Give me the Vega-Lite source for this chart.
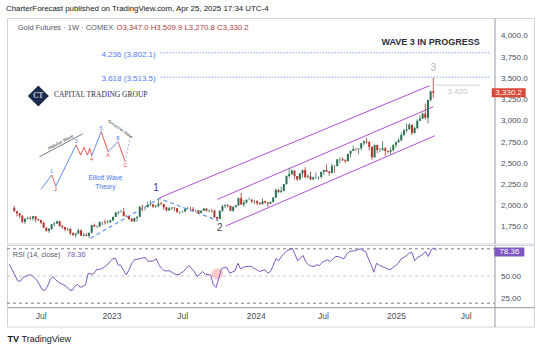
{
"$schema":"https://vega.github.io/schema/vega-lite/v6.json",
"background":"white",
"padding":{"left":6,"top":4,"right":0,"bottom":0},
"config":{"font":"Liberation Sans","view":{"stroke":"#d1d4dc","strokeWidth":1},"axis":{"grid":false,"ticks":false,"domainColor":"#9598a1","labelColor":"#4a4e59","labelFontSize":8,"zindex":0,"labelOverlap":false}},
"title":{"text":"CharterForecast published on TradingView.com, Apr 25, 2025 17:34 UTC-4","anchor":"start","fontSize":7.9,"fontWeight":"normal","color":"#131722","offset":5},
"datasets":{"bars":[
{"d":"2022-04-18","o":1974,"h":1998,"l":1931,"c":1934,"r":63},
{"d":"2022-04-25","o":1934,"h":1938,"l":1872,"c":1911,"r":57},
{"d":"2022-05-02","o":1911,"h":1912,"l":1851,"c":1882,"r":51.3},
{"d":"2022-05-09","o":1882,"h":1887,"l":1797,"c":1811,"r":45},
{"d":"2022-05-16","o":1810,"h":1850,"l":1787,"c":1846,"r":44},
{"d":"2022-05-23","o":1847,"h":1870,"l":1842,"c":1857,"r":48.4},
{"d":"2022-05-30","o":1857,"h":1876,"l":1828,"c":1850,"r":49.5},
{"d":"2022-06-06","o":1851,"h":1879,"l":1825,"c":1875,"r":51},
{"d":"2022-06-13","o":1875,"h":1880,"l":1805,"c":1840,"r":51.3},
{"d":"2022-06-20","o":1840,"h":1848,"l":1820,"c":1830,"r":48.4},
{"d":"2022-06-27","o":1830,"h":1835,"l":1784,"c":1801,"r":46},
{"d":"2022-07-04","o":1801,"h":1812,"l":1736,"c":1742,"r":41},
{"d":"2022-07-11","o":1742,"h":1745,"l":1696,"c":1703,"r":35},
{"d":"2022-07-18","o":1705,"h":1739,"l":1680,"c":1727,"r":34},
{"d":"2022-07-25","o":1727,"h":1784,"l":1715,"c":1782,"r":38.4},
{"d":"2022-08-01","o":1782,"h":1808,"l":1757,"c":1791,"r":45.8},
{"d":"2022-08-08","o":1791,"h":1824,"l":1785,"c":1816,"r":49.5},
{"d":"2022-08-15","o":1816,"h":1824,"l":1748,"c":1762,"r":46},
{"d":"2022-08-22","o":1762,"h":1772,"l":1728,"c":1749,"r":43.2},
{"d":"2022-08-29","o":1749,"h":1750,"l":1698,"c":1721,"r":41.5},
{"d":"2022-09-05","o":1721,"h":1738,"l":1703,"c":1728,"r":40.3},
{"d":"2022-09-12","o":1728,"h":1733,"l":1654,"c":1675,"r":38.4},
{"d":"2022-09-19","o":1675,"h":1690,"l":1643,"c":1655,"r":35},
{"d":"2022-09-26","o":1655,"h":1680,"l":1622,"c":1672,"r":34},
{"d":"2022-10-03","o":1672,"h":1730,"l":1668,"c":1709,"r":38.4},
{"d":"2022-10-10","o":1709,"h":1720,"l":1641,"c":1648,"r":41},
{"d":"2022-10-17","o":1648,"h":1680,"l":1636,"c":1657,"r":37.7},
{"d":"2022-10-24","o":1657,"h":1680,"l":1640,"c":1645,"r":38.4},
{"d":"2022-10-31","o":1645,"h":1684,"l":1618,"c":1681,"r":40.3},
{"d":"2022-11-07","o":1681,"h":1775,"l":1675,"c":1771,"r":53.1},
{"d":"2022-11-14","o":1771,"h":1790,"l":1751,"c":1754,"r":52},
{"d":"2022-11-21","o":1754,"h":1770,"l":1735,"c":1755,"r":52.5},
{"d":"2022-11-28","o":1755,"h":1815,"l":1745,"c":1809,"r":56.8},
{"d":"2022-12-05","o":1809,"h":1813,"l":1770,"c":1810,"r":57.5},
{"d":"2022-12-12","o":1810,"h":1836,"l":1778,"c":1800,"r":58},
{"d":"2022-12-19","o":1800,"h":1833,"l":1791,"c":1804,"r":60},
{"d":"2022-12-26","o":1804,"h":1835,"l":1800,"c":1826,"r":62.4},
{"d":"2023-01-02","o":1826,"h":1870,"l":1825,"c":1869,"r":66},
{"d":"2023-01-09","o":1869,"h":1925,"l":1868,"c":1920,"r":69},
{"d":"2023-01-16","o":1920,"h":1940,"l":1896,"c":1928,"r":69.6},
{"d":"2023-01-23","o":1928,"h":1950,"l":1917,"c":1929,"r":62.4},
{"d":"2023-01-30","o":1929,"h":1975,"l":1876,"c":1877,"r":61.6},
{"d":"2023-02-06","o":1877,"h":1895,"l":1865,"c":1875,"r":56},
{"d":"2023-02-13","o":1875,"h":1878,"l":1831,"c":1843,"r":51.3},
{"d":"2023-02-20","o":1843,"h":1855,"l":1811,"c":1817,"r":56.8},
{"d":"2023-02-27","o":1817,"h":1860,"l":1805,"c":1856,"r":64.1},
{"d":"2023-03-06","o":1856,"h":1874,"l":1813,"c":1870,"r":67.9},
{"d":"2023-03-13","o":1870,"h":1995,"l":1864,"c":1989,"r":68.5},
{"d":"2023-03-20","o":1989,"h":2010,"l":1934,"c":1983,"r":69},
{"d":"2023-03-27","o":1983,"h":1990,"l":1944,"c":1986,"r":70},
{"d":"2023-04-03","o":1986,"h":2049,"l":1977,"c":2008,"r":70.4},
{"d":"2023-04-10","o":2008,"h":2063,"l":1993,"c":2015,"r":66},
{"d":"2023-04-17","o":2015,"h":2021,"l":1973,"c":1990,"r":66.4},
{"d":"2023-04-24","o":1990,"h":2010,"l":1975,"c":1999,"r":66.8},
{"d":"2023-05-01","o":1999,"h":2085,"l":1982,"c":2025,"r":69},
{"d":"2023-05-08","o":2025,"h":2048,"l":2010,"c":2019,"r":62.4},
{"d":"2023-05-15","o":2019,"h":2024,"l":1952,"c":1981,"r":58.5},
{"d":"2023-05-22","o":1981,"h":1985,"l":1932,"c":1946,"r":55.7},
{"d":"2023-05-29","o":1946,"h":1985,"l":1938,"c":1969,"r":55.7},
{"d":"2023-06-05","o":1969,"h":1985,"l":1950,"c":1977,"r":55.7},
{"d":"2023-06-12","o":1977,"h":1983,"l":1934,"c":1971,"r":53.5},
{"d":"2023-06-19","o":1971,"h":1972,"l":1910,"c":1929,"r":52},
{"d":"2023-06-26","o":1929,"h":1935,"l":1900,"c":1929,"r":51.3},
{"d":"2023-07-03","o":1929,"h":1942,"l":1915,"c":1932,"r":53},
{"d":"2023-07-10","o":1932,"h":1970,"l":1925,"c":1960,"r":55},
{"d":"2023-07-17","o":1960,"h":1990,"l":1955,"c":1962,"r":58},
{"d":"2023-07-24","o":1962,"h":1987,"l":1946,"c":1960,"r":61.6},
{"d":"2023-07-31","o":1960,"h":1985,"l":1932,"c":1944,"r":58},
{"d":"2023-08-07","o":1944,"h":1950,"l":1925,"c":1946,"r":55},
{"d":"2023-08-14","o":1946,"h":1947,"l":1902,"c":1915,"r":49.5},
{"d":"2023-08-21","o":1915,"h":1947,"l":1913,"c":1940,"r":52},
{"d":"2023-08-28","o":1940,"h":1974,"l":1937,"c":1966,"r":55},
{"d":"2023-09-04","o":1966,"h":1975,"l":1930,"c":1942,"r":52},
{"d":"2023-09-11","o":1942,"h":1953,"l":1922,"c":1946,"r":51.5},
{"d":"2023-09-18","o":1946,"h":1965,"l":1918,"c":1945,"r":51.3},
{"d":"2023-09-25","o":1945,"h":1950,"l":1857,"c":1866,"r":40.3},
{"d":"2023-10-02","o":1866,"h":1870,"l":1823,"c":1845,"r":37.3},
{"d":"2023-10-09","o":1845,"h":1943,"l":1840,"c":1941,"r":47.6},
{"d":"2023-10-16","o":1941,"h":2009,"l":1926,"c":1994,"r":58},
{"d":"2023-10-23","o":1994,"h":2019,"l":1971,"c":2006,"r":59.4},
{"d":"2023-10-30","o":2006,"h":2019,"l":1979,"c":1999,"r":59},
{"d":"2023-11-06","o":1999,"h":2000,"l":1937,"c":1940,"r":53.1},
{"d":"2023-11-13","o":1940,"h":1999,"l":1931,"c":1985,"r":54.5},
{"d":"2023-11-20","o":1985,"h":2014,"l":1977,"c":2003,"r":55.7},
{"d":"2023-11-27","o":2003,"h":2095,"l":1998,"c":2089,"r":64.1},
{"d":"2023-12-04","o":2089,"h":2152,"l":2010,"c":2014,"r":58},
{"d":"2023-12-11","o":2014,"h":2067,"l":1985,"c":2037,"r":59.5},
{"d":"2023-12-18","o":2037,"h":2075,"l":2027,"c":2070,"r":60.5},
{"d":"2023-12-25","o":2070,"h":2098,"l":2063,"c":2071,"r":60.5},
{"d":"2024-01-01","o":2071,"h":2080,"l":2030,"c":2050,"r":60.5},
{"d":"2024-01-08","o":2050,"h":2067,"l":2020,"c":2052,"r":58.5},
{"d":"2024-01-15","o":2052,"h":2067,"l":2005,"c":2029,"r":56.8},
{"d":"2024-01-22","o":2029,"h":2045,"l":2011,"c":2018,"r":55},
{"d":"2024-01-29","o":2018,"h":2088,"l":2015,"c":2054,"r":56},
{"d":"2024-02-05","o":2054,"h":2060,"l":2025,"c":2038,"r":56.8},
{"d":"2024-02-12","o":2038,"h":2040,"l":1984,"c":2024,"r":53.1},
{"d":"2024-02-19","o":2024,"h":2050,"l":2020,"c":2045,"r":55},
{"d":"2024-02-26","o":2045,"h":2101,"l":2035,"c":2096,"r":61.6},
{"d":"2024-03-04","o":2096,"h":2203,"l":2090,"c":2186,"r":69},
{"d":"2024-03-11","o":2186,"h":2194,"l":2150,"c":2162,"r":66.8},
{"d":"2024-03-18","o":2162,"h":2225,"l":2150,"c":2175,"r":71.5},
{"d":"2024-03-25","o":2175,"h":2255,"l":2170,"c":2254,"r":74.5},
{"d":"2024-04-01","o":2254,"h":2355,"l":2250,"c":2351,"r":77.8},
{"d":"2024-04-08","o":2351,"h":2448,"l":2330,"c":2374,"r":79},
{"d":"2024-04-15","o":2374,"h":2431,"l":2360,"c":2413,"r":80.7},
{"d":"2024-04-22","o":2413,"h":2415,"l":2308,"c":2349,"r":74},
{"d":"2024-04-29","o":2349,"h":2350,"l":2290,"c":2311,"r":66.8},
{"d":"2024-05-06","o":2311,"h":2385,"l":2300,"c":2381,"r":70},
{"d":"2024-05-13","o":2381,"h":2426,"l":2335,"c":2419,"r":72.6},
{"d":"2024-05-20","o":2419,"h":2454,"l":2325,"c":2335,"r":65.2},
{"d":"2024-05-27","o":2335,"h":2370,"l":2325,"c":2345,"r":62.4},
{"d":"2024-06-03","o":2345,"h":2400,"l":2300,"c":2311,"r":61},
{"d":"2024-06-10","o":2311,"h":2344,"l":2300,"c":2333,"r":60.5},
{"d":"2024-06-17","o":2333,"h":2390,"l":2315,"c":2335,"r":62.4},
{"d":"2024-06-24","o":2335,"h":2345,"l":2305,"c":2339,"r":61.6},
{"d":"2024-07-01","o":2339,"h":2400,"l":2320,"c":2399,"r":65.2},
{"d":"2024-07-08","o":2399,"h":2425,"l":2365,"c":2421,"r":66.5},
{"d":"2024-07-15","o":2421,"h":2485,"l":2400,"c":2400,"r":67.9},
{"d":"2024-07-22","o":2400,"h":2410,"l":2353,"c":2386,"r":66},
{"d":"2024-07-29","o":2386,"h":2495,"l":2381,"c":2470,"r":69},
{"d":"2024-08-05","o":2470,"h":2480,"l":2388,"c":2469,"r":71.5},
{"d":"2024-08-12","o":2469,"h":2548,"l":2460,"c":2546,"r":71.5},
{"d":"2024-08-19","o":2546,"h":2570,"l":2500,"c":2547,"r":70},
{"d":"2024-08-26","o":2547,"h":2570,"l":2525,"c":2536,"r":69},
{"d":"2024-09-02","o":2536,"h":2548,"l":2501,"c":2524,"r":74},
{"d":"2024-09-09","o":2524,"h":2611,"l":2522,"c":2611,"r":77},
{"d":"2024-09-16","o":2611,"h":2650,"l":2570,"c":2646,"r":77.5},
{"d":"2024-09-23","o":2646,"h":2709,"l":2645,"c":2668,"r":77.8},
{"d":"2024-09-30","o":2668,"h":2685,"l":2643,"c":2667,"r":79},
{"d":"2024-10-07","o":2667,"h":2673,"l":2606,"c":2676,"r":80},
{"d":"2024-10-14","o":2676,"h":2737,"l":2650,"c":2736,"r":78},
{"d":"2024-10-21","o":2736,"h":2772,"l":2710,"c":2756,"r":77},
{"d":"2024-10-28","o":2756,"h":2801,"l":2730,"c":2749,"r":69},
{"d":"2024-11-04","o":2749,"h":2760,"l":2650,"c":2694,"r":62.4},
{"d":"2024-11-11","o":2694,"h":2696,"l":2541,"c":2571,"r":54.2},
{"d":"2024-11-18","o":2571,"h":2721,"l":2564,"c":2716,"r":64.1},
{"d":"2024-11-25","o":2716,"h":2718,"l":2620,"c":2657,"r":62},
{"d":"2024-12-02","o":2657,"h":2680,"l":2630,"c":2658,"r":60.5},
{"d":"2024-12-09","o":2658,"h":2760,"l":2650,"c":2676,"r":59.4},
{"d":"2024-12-16","o":2676,"h":2690,"l":2583,"c":2645,"r":58},
{"d":"2024-12-23","o":2645,"h":2650,"l":2616,"c":2635,"r":56.8},
{"d":"2024-12-30","o":2635,"h":2690,"l":2600,"c":2654,"r":59.5},
{"d":"2025-01-06","o":2654,"h":2725,"l":2640,"c":2715,"r":61.6},
{"d":"2025-01-13","o":2715,"h":2756,"l":2685,"c":2748,"r":64.1},
{"d":"2025-01-20","o":2748,"h":2800,"l":2740,"c":2770,"r":69},
{"d":"2025-01-27","o":2770,"h":2860,"l":2760,"c":2835,"r":70.5},
{"d":"2025-02-03","o":2835,"h":2905,"l":2820,"c":2886,"r":72.6},
{"d":"2025-02-10","o":2886,"h":2968,"l":2860,"c":2900,"r":75.2},
{"d":"2025-02-17","o":2900,"h":2974,"l":2898,"c":2953,"r":76},
{"d":"2025-02-24","o":2953,"h":2954,"l":2832,"c":2857,"r":66.8},
{"d":"2025-03-03","o":2857,"h":2930,"l":2850,"c":2915,"r":70.4},
{"d":"2025-03-10","o":2915,"h":3017,"l":2900,"c":3001,"r":72},
{"d":"2025-03-17","o":3001,"h":3065,"l":2995,"c":3026,"r":74},
{"d":"2025-03-24","o":3026,"h":3097,"l":3020,"c":3084,"r":77},
{"d":"2025-03-31","o":3084,"h":3201,"l":3015,"c":3036,"r":71.5},
{"d":"2025-04-07","o":3036,"h":3249,"l":2970,"c":3245,"r":78.9},
{"d":"2025-04-14","o":3245,"h":3357,"l":3225,"c":3347,"r":80.7},
{"d":"2025-04-21","o":3347,"h":3509.9,"l":3270.8,"c":3330.2,"r":78.36}
]},
"spacing":0,
"vconcat":[
{"width":527,"height":225.5,
 "encoding":{"x":{"field":"d","type":"temporal","scale":{"type":"utc","domain":[{"year":2022,"month":4,"date":12,"utc":true},{"year":2025,"month":12,"date":28,"utc":true}]},"axis":null}},
 "layer":[
  {"data":{"values":[{"ch":"u","d":"2023-05-04","p":2094},{"ch":"u","d":"2025-04-11","p":3413},{"ch":"m","d":"2023-10-03","p":2075},{"ch":"m","d":"2025-04-21","p":3166},{"ch":"l","d":"2023-10-25","p":1761},{"ch":"l","d":"2025-04-25","p":2824}]},
   "mark":{"type":"line","color":"#b24fd1","strokeWidth":1},
   "encoding":{"y":{"field":"p","type":"quantitative","scale":{"domain":[1555,4211],"nice":false,"zero":false},"axis":{"orient":"right","offset":-39.5,"values":[1750,2000,2250,2500,2750,3000,3250,3500,3750,4000],"format":",.1f","labelPadding":6,"labelOverlap":false,"title":null}},"detail":{"field":"ch"}}},
  {"data":{"values":[{"d":"2022-11-04","p":1618},{"d":"2023-05-04","p":2085},{"d":"2023-10-05","p":1823}]},
   "mark":{"type":"line","color":"#5b8ff5","strokeWidth":1.2,"strokeDash":[4,3]},
   "encoding":{"y":{"field":"p","type":"quantitative","scale":{"domain":[1555,4211],"nice":false,"zero":false},"axis":{"orient":"right","offset":-39.5,"values":[1750,2000,2250,2500,2750,3000,3250,3500,3750,4000],"format":",.1f","labelPadding":6,"labelOverlap":false,"title":null}}}},
  {"data":{"values":[{"d":"2023-05-07","d2":"2025-09-17","p":3802.1},{"d":"2023-05-07","d2":"2025-09-17","p":3513.5}]},
   "mark":{"type":"rule","color":"#4d7ef2","strokeDash":[1,2],"strokeWidth":1},
   "encoding":{"x2":{"field":"d2"},"y":{"field":"p","type":"quantitative","scale":{"domain":[1555,4211],"nice":false,"zero":false},"axis":{"orient":"right","offset":-39.5,"values":[1750,2000,2250,2500,2750,3000,3250,3500,3750,4000],"format":",.1f","labelPadding":6,"labelOverlap":false,"title":null}}}},
  {"data":{"values":[{"d":"2023-04-24","p":3802.1,"t":"4.236 (3,802.1)"},{"d":"2023-04-24","p":3513.5,"t":"3.618 (3,513.5)"}]},
   "mark":{"type":"text","align":"right","baseline":"middle","dy":2,"fontSize":8,"color":"#4d7ef2"},
   "encoding":{"y":{"field":"p","type":"quantitative","scale":{"domain":[1555,4211],"nice":false,"zero":false},"axis":{"orient":"right","offset":-39.5,"values":[1750,2000,2250,2500,2750,3000,3250,3500,3750,4000],"format":",.1f","labelPadding":6,"labelOverlap":false,"title":null}},"text":{"field":"t"}}},
  {"data":{"values":[{"d":"2025-04-24","d2":"2025-08-22","p":3420}]},
   "mark":{"type":"rule","color":"#d1d4dc","strokeWidth":1},
   "encoding":{"x2":{"field":"d2"},"y":{"field":"p","type":"quantitative","scale":{"domain":[1555,4211],"nice":false,"zero":false},"axis":{"orient":"right","offset":-39.5,"values":[1750,2000,2250,2500,2750,3000,3250,3500,3750,4000],"format":",.1f","labelPadding":6,"labelOverlap":false,"title":null}}}},
  {"data":{"values":[{"d":"2025-06-23","p":3343,"t":"3.420"}]},
   "mark":{"type":"text","align":"center","baseline":"middle","fontSize":8,"color":"#c2c4cc"},
   "encoding":{"y":{"field":"p","type":"quantitative","scale":{"domain":[1555,4211],"nice":false,"zero":false},"axis":{"orient":"right","offset":-39.5,"values":[1750,2000,2250,2500,2750,3000,3250,3500,3750,4000],"format":",.1f","labelPadding":6,"labelOverlap":false,"title":null}},"text":{"field":"t"}}},
  {"data":{"name":"bars"},
   "mark":{"type":"rule","strokeWidth":1},
   "encoding":{"y":{"field":"l","type":"quantitative","scale":{"domain":[1555,4211],"nice":false,"zero":false},"axis":{"orient":"right","offset":-39.5,"values":[1750,2000,2250,2500,2750,3000,3250,3500,3750,4000],"format":",.1f","labelPadding":6,"labelOverlap":false,"title":null}},"y2":{"field":"h"},
     "color":{"condition":{"test":"datum.c >= datum.o","value":"#5f8f78"},"value":"#b0615a"}}},
  {"data":{"name":"bars"},
   "mark":{"type":"bar","size":2},
   "encoding":{"y":{"field":"o","type":"quantitative","scale":{"domain":[1555,4211],"nice":false,"zero":false},"axis":{"orient":"right","offset":-39.5,"values":[1750,2000,2250,2500,2750,3000,3250,3500,3750,4000],"format":",.1f","labelPadding":6,"labelOverlap":false,"title":null}},
     "y2":{"field":"c"},
     "color":{"condition":{"test":"datum.c >= datum.o","value":"#2e7052"},"value":"#b3352d"}}},
  {"data":{"values":[{"d":"2023-04-25","p":2212,"t":"1"},{"d":"2023-10-09","p":1734,"t":"2"}]},
   "mark":{"type":"text","align":"center","baseline":"middle","fontSize":10,"color":"#434651"},
   "encoding":{"y":{"field":"p","type":"quantitative","scale":{"domain":[1555,4211],"nice":false,"zero":false},"axis":{"orient":"right","offset":-39.5,"values":[1750,2000,2250,2500,2750,3000,3250,3500,3750,4000],"format":",.1f","labelPadding":6,"labelOverlap":false,"title":null}},"text":{"field":"t"}}},
  {"data":{"values":[{"d":"2025-04-21","p":3625,"t":"3"}]},
   "mark":{"type":"text","align":"center","baseline":"middle","fontSize":10,"color":"#b2b5be"},
   "encoding":{"y":{"field":"p","type":"quantitative","scale":{"domain":[1555,4211],"nice":false,"zero":false},"axis":{"orient":"right","offset":-39.5,"values":[1750,2000,2250,2500,2750,3000,3250,3500,3750,4000],"format":",.1f","labelPadding":6,"labelOverlap":false,"title":null}},"text":{"field":"t"}}},
  {"data":{"values":[{"d":"2025-08-21","p":3923,"t":"WAVE 3 IN PROGRESS"}]},
   "mark":{"type":"text","align":"right","baseline":"middle","fontSize":9,"fontWeight":"bold","color":"#2a2e39"},
   "encoding":{"y":{"field":"p","type":"quantitative","scale":{"domain":[1555,4211],"nice":false,"zero":false},"axis":{"orient":"right","offset":-39.5,"values":[1750,2000,2250,2500,2750,3000,3250,3500,3750,4000],"format":",.1f","labelPadding":6,"labelOverlap":false,"title":null}},"text":{"field":"t"}}},
  {"data":{"values":[{"d":"2022-04-27","p":4099,"t":"Gold Futures · 1W · COMEX"}]},
   "mark":{"type":"text","align":"left","baseline":"middle","fontSize":7.5,"color":"#555a66"},
   "encoding":{"y":{"field":"p","type":"quantitative","scale":{"domain":[1555,4211],"nice":false,"zero":false},"axis":{"orient":"right","offset":-39.5,"values":[1750,2000,2250,2500,2750,3000,3250,3500,3750,4000],"format":",.1f","labelPadding":6,"labelOverlap":false,"title":null}},"text":{"field":"t"}}},
  {"data":{"values":[{"d":"2023-01-11","p":4099,"t":"O3,347.0 H3,509.9 L3,270.8 C3,330.2"}]},
   "mark":{"type":"text","align":"left","baseline":"middle","fontSize":7.8,"color":"#b33c3c"},
   "encoding":{"y":{"field":"p","type":"quantitative","scale":{"domain":[1555,4211],"nice":false,"zero":false},"axis":{"orient":"right","offset":-39.5,"values":[1750,2000,2250,2500,2750,3000,3250,3500,3750,4000],"format":",.1f","labelPadding":6,"labelOverlap":false,"title":null}},"text":{"field":"t"}}},
  {"data":{"values":[
    {"seg":"s1","dir":"up","d":"2022-06-27","p":2193},{"seg":"s1","dir":"up","d":"2022-07-25","p":2362},
    {"seg":"s2","dir":"dn","d":"2022-07-25","p":2362},{"seg":"s2","dir":"dn","d":"2022-08-05","p":2232},
    {"seg":"s3","dir":"up","d":"2022-08-05","p":2232},{"seg":"s3","dir":"up","d":"2022-09-27","p":2715},
    {"seg":"s4","dir":"dn","d":"2022-09-27","p":2715},{"seg":"s4","dir":"dn","d":"2022-10-09","p":2597},{"seg":"s4","dir":"dn","d":"2022-10-18","p":2686},{"seg":"s4","dir":"dn","d":"2022-10-27","p":2597},{"seg":"s4","dir":"dn","d":"2022-11-02","p":2676},{"seg":"s4","dir":"dn","d":"2022-11-07","p":2588},
    {"seg":"s5","dir":"up","d":"2022-11-07","p":2588},{"seg":"s5","dir":"up","d":"2022-12-02","p":2872},
    {"seg":"s6","dir":"dn","d":"2022-12-02","p":2872},{"seg":"s6","dir":"dn","d":"2022-12-20","p":2636},
    {"seg":"s7","dir":"up","d":"2022-12-20","p":2636},{"seg":"s7","dir":"up","d":"2023-01-15","p":2754},
    {"seg":"s8","dir":"dn","d":"2023-01-15","p":2754},{"seg":"s8","dir":"dn","d":"2023-02-03","p":2518},
    {"seg":"s9","dir":"next","d":"2023-02-03","p":2518},{"seg":"s9","dir":"next","d":"2023-02-16","p":2813}]},
   "mark":{"type":"line","strokeWidth":1},
   "encoding":{"y":{"field":"p","type":"quantitative","scale":{"domain":[1555,4211],"nice":false,"zero":false},"axis":{"orient":"right","offset":-39.5,"values":[1750,2000,2250,2500,2750,3000,3250,3500,3750,4000],"format":",.1f","labelPadding":6,"labelOverlap":false,"title":null}},"detail":{"field":"seg"},
     "color":{"field":"dir","type":"nominal","scale":{"domain":["up","dn","next"],"range":["#4d7ef2","#e8413b","#9ab8f7"]},"legend":null},
     "strokeDash":{"field":"dir","type":"nominal","scale":{"domain":["up","dn","next"],"range":[[1,0],[1,0],[2,2]]},"legend":null}}},
  {"data":{"values":[{"d":"2022-07-25","p":2362,"t":"1"},{"d":"2022-09-27","p":2715,"t":"3"},{"d":"2022-12-02","p":2872,"t":"5"},{"d":"2023-01-15","p":2754,"t":"B"}]},
   "mark":{"type":"text","align":"center","baseline":"bottom","dy":-1,"fontSize":5,"color":"#4d7ef2"},
   "encoding":{"y":{"field":"p","type":"quantitative","scale":{"domain":[1555,4211],"nice":false,"zero":false},"axis":{"orient":"right","offset":-39.5,"values":[1750,2000,2250,2500,2750,3000,3250,3500,3750,4000],"format":",.1f","labelPadding":6,"labelOverlap":false,"title":null}},"text":{"field":"t"}}},
  {"data":{"values":[{"d":"2022-08-05","p":2232,"t":"2"},{"d":"2022-11-07","p":2588,"t":"4"},{"d":"2022-12-20","p":2636,"t":"A"},{"d":"2023-02-03","p":2518,"t":"C"}]},
   "mark":{"type":"text","align":"center","baseline":"top","dy":1,"fontSize":5,"color":"#e8413b"},
   "encoding":{"y":{"field":"p","type":"quantitative","scale":{"domain":[1555,4211],"nice":false,"zero":false},"axis":{"orient":"right","offset":-39.5,"values":[1750,2000,2250,2500,2750,3000,3250,3500,3750,4000],"format":",.1f","labelPadding":6,"labelOverlap":false,"title":null}},"text":{"field":"t"}}},
  {"data":{"values":[{"d":"2022-06-23","d2":"2022-10-14","p":2577,"p2":2845}]},
   "mark":{"type":"rule","color":"#222","strokeWidth":0.6},
   "encoding":{"x2":{"field":"d2"},"y":{"field":"p","type":"quantitative","scale":{"domain":[1555,4211],"nice":false,"zero":false},"axis":{"orient":"right","offset":-39.5,"values":[1750,2000,2250,2500,2750,3000,3250,3500,3750,4000],"format":",.1f","labelPadding":6,"labelOverlap":false,"title":null}},"y2":{"field":"p2"}}},
  {"data":{"values":[{"d":"2022-08-18","p":2745,"t":"Impulse Wave"}]},
   "mark":{"type":"text","align":"center","baseline":"middle","fontSize":4.5,"angle":333,"color":"#222"},
   "encoding":{"y":{"field":"p","type":"quantitative","scale":{"domain":[1555,4211],"nice":false,"zero":false},"axis":{"orient":"right","offset":-39.5,"values":[1750,2000,2250,2500,2750,3000,3250,3500,3750,4000],"format":",.1f","labelPadding":6,"labelOverlap":false,"title":null}},"text":{"field":"t"}}},
  {"data":{"values":[{"d":"2023-01-21","p":2900,"t":"Corrective Wave"}]},
   "mark":{"type":"text","align":"center","baseline":"middle","fontSize":4,"angle":35,"color":"#222"},
   "encoding":{"y":{"field":"p","type":"quantitative","scale":{"domain":[1555,4211],"nice":false,"zero":false},"axis":{"orient":"right","offset":-39.5,"values":[1750,2000,2250,2500,2750,3000,3250,3500,3750,4000],"format":",.1f","labelPadding":6,"labelOverlap":false,"title":null}},"text":{"field":"t"}}},
  {"data":{"values":[{"d":"2022-12-13","p":2323,"t":"Elliott Wave"},{"d":"2022-12-13","p":2224,"t":"Theory"}]},
   "mark":{"type":"text","align":"center","baseline":"middle","fontSize":6.5,"color":"#3f74e8"},
   "encoding":{"y":{"field":"p","type":"quantitative","scale":{"domain":[1555,4211],"nice":false,"zero":false},"axis":{"orient":"right","offset":-39.5,"values":[1750,2000,2250,2500,2750,3000,3250,3500,3750,4000],"format":",.1f","labelPadding":6,"labelOverlap":false,"title":null}},"text":{"field":"t"}}},
  {"data":{"values":[{"d":"2022-06-20","p":3292}]},
   "mark":{"type":"point","shape":"diamond","filled":true,"size":441,"opacity":1,"color":"#1c2b4b"},
   "encoding":{"y":{"field":"p","type":"quantitative","scale":{"domain":[1555,4211],"nice":false,"zero":false},"axis":{"orient":"right","offset":-39.5,"values":[1750,2000,2250,2500,2750,3000,3250,3500,3750,4000],"format":",.1f","labelPadding":6,"labelOverlap":false,"title":null}}}},
  {"data":{"values":[{"d":"2022-06-20","p":3292,"t":"CT"}]},
   "mark":{"type":"text","align":"center","baseline":"middle","fontSize":8,"font":"Liberation Serif","color":"white"},
   "encoding":{"y":{"field":"p","type":"quantitative","scale":{"domain":[1555,4211],"nice":false,"zero":false},"axis":{"orient":"right","offset":-39.5,"values":[1750,2000,2250,2500,2750,3000,3250,3500,3750,4000],"format":",.1f","labelPadding":6,"labelOverlap":false,"title":null}},"text":{"field":"t"}}},
  {"data":{"values":[{"d":"2022-07-31","p":3304,"t":"CAPITAL TRADING GROUP"}]},
   "mark":{"type":"text","align":"left","baseline":"middle","fontSize":7.5,"font":"Liberation Serif","color":"#1f2f4f"},
   "encoding":{"y":{"field":"p","type":"quantitative","scale":{"domain":[1555,4211],"nice":false,"zero":false},"axis":{"orient":"right","offset":-39.5,"values":[1750,2000,2250,2500,2750,3000,3250,3500,3750,4000],"format":",.1f","labelPadding":6,"labelOverlap":false,"title":null}},"text":{"field":"t"}}},
  {"data":{"values":[{"d":"2025-04-21","p":3330.2,"t":"3,330.2"}]},
   "mark":{"type":"point","shape":"M-1,-0.265L1,-0.265L1,0.265L-1,0.265Z","filled":true,"size":1156,"opacity":1,"color":"#d9493a","xOffset":75.4},
   "encoding":{"y":{"field":"p","type":"quantitative","scale":{"domain":[1555,4211],"nice":false,"zero":false},"axis":{"orient":"right","offset":-39.5,"values":[1750,2000,2250,2500,2750,3000,3250,3500,3750,4000],"format":",.1f","labelPadding":6,"labelOverlap":false,"title":null}}}},
  {"data":{"values":[{"d":"2025-04-21","p":3330.2,"t":"3,330.2"}]},
   "mark":{"type":"text","align":"center","baseline":"middle","fontSize":8,"color":"white","xOffset":75.4},
   "encoding":{"y":{"field":"p","type":"quantitative","scale":{"domain":[1555,4211],"nice":false,"zero":false},"axis":{"orient":"right","offset":-39.5,"values":[1750,2000,2250,2500,2750,3000,3250,3500,3750,4000],"format":",.1f","labelPadding":6,"labelOverlap":false,"title":null}},"text":{"field":"t"}}}
 ]},
{"width":527,"height":81.5,
 "title":{"text":"TradingView","orient":"bottom","anchor":"start","dx":15,"offset":-9,"fontSize":9,"fontWeight":"normal","color":"#131722"},
 "encoding":{"x":{"field":"d","type":"temporal","scale":{"type":"utc","domain":[{"year":2022,"month":4,"date":12,"utc":true},{"year":2025,"month":12,"date":28,"utc":true}]},
   "axis":{"orient":"bottom","offset":-19.3,"values":[{"year":2022,"month":7,"date":8,"utc":true},{"year":2023,"month":1,"date":6,"utc":true},{"year":2023,"month":7,"date":7,"utc":true},{"year":2024,"month":1,"date":12,"utc":true},{"year":2024,"month":7,"date":3,"utc":true},{"year":2025,"month":1,"date":7,"utc":true},{"year":2025,"month":7,"date":5,"utc":true}],
     "labelExpr":"utcFormat(datum.value, '%m') == '01' ? utcFormat(datum.value, '%Y') : utcFormat(datum.value, '%b')","labelPadding":4,"labelFontSize":8.5,"labelOverlap":false,"title":null}}},
 "layer":[
  {"data":{"values":[{"d":"2022-04-12","d2":"2025-09-17","v":80},{"d":"2022-04-12","d2":"2025-09-17","v":20}]},
   "mark":{"type":"rule","color":"#787b86","strokeDash":[3,3],"strokeWidth":1},
   "encoding":{"x2":{"field":"d2"},"y":{"field":"v","type":"quantitative","scale":{"domain":[-5.67,84.19],"nice":false,"zero":false}}}},
  {"data":{"values":[{"d":"2022-04-12","d2":"2025-09-17","v":50}]},
   "mark":{"type":"rule","color":"#c5c7cf","strokeDash":[3,3],"strokeWidth":1},
   "encoding":{"x2":{"field":"d2"},"y":{"field":"v","type":"quantitative","scale":{"domain":[-5.67,84.19],"nice":false,"zero":false}}}},
  {"data":{"values":[{"d":"2023-10-05","v":52.4}]},
   "mark":{"type":"point","filled":true,"size":130,"opacity":0.75,"color":"#f7b9b9"},
   "encoding":{"y":{"field":"v","type":"quantitative","scale":{"domain":[-5.67,84.19],"nice":false,"zero":false}}}},
  {"data":{"name":"bars"},
   "mark":{"type":"line","color":"#7e57c2","strokeWidth":1},
   "encoding":{"y":{"field":"r","type":"quantitative","scale":{"domain":[-5.67,84.19],"nice":false,"zero":false},
      "axis":{"orient":"right","offset":-39.5,"values":[25,50],"format":".2f","labelPadding":6,"labelOverlap":false,"title":null}}}},
  {"data":{"values":[{"d":"2022-04-27","v":73.7,"t":"RSI (14, close)"}]},
   "mark":{"type":"text","align":"left","baseline":"middle","fontSize":7.2,"color":"#555a66"},
   "encoding":{"y":{"field":"v","type":"quantitative","scale":{"domain":[-5.67,84.19],"nice":false,"zero":false}},"text":{"field":"t"}}},
  {"data":{"values":[{"d":"2022-09-13","v":73.7,"t":"78.36"}]},
   "mark":{"type":"text","align":"left","baseline":"middle","fontSize":7.5,"color":"#7e57c2"},
   "encoding":{"y":{"field":"v","type":"quantitative","scale":{"domain":[-5.67,84.19],"nice":false,"zero":false}},"text":{"field":"t"}}},
  {"data":{"values":[{"d":"2025-04-21","v":78.36}]},
   "mark":{"type":"point","shape":"M-1,-0.3L1,-0.3L1,0.3L-1,0.3Z","filled":true,"size":900,"opacity":1,"color":"#7e57c2","xOffset":72.9,"yOffset":1.7},
   "encoding":{"y":{"field":"v","type":"quantitative","scale":{"domain":[-5.67,84.19],"nice":false,"zero":false}}}},
  {"data":{"values":[{"d":"2025-04-21","v":78.36,"t":"78.36"}]},
   "mark":{"type":"text","align":"center","baseline":"middle","fontSize":8,"color":"white","xOffset":72.9,"yOffset":1.7},
   "encoding":{"y":{"field":"v","type":"quantitative","scale":{"domain":[-5.67,84.19],"nice":false,"zero":false}},"text":{"field":"t"}}},
  {"data":{"values":[{"d":"2022-04-28","v":-20,"t":"TV"}]},
   "mark":{"type":"text","align":"center","baseline":"middle","fontSize":9,"fontWeight":"bold","color":"#131722"},
   "encoding":{"y":{"field":"v","type":"quantitative","scale":{"domain":[-5.67,84.19],"nice":false,"zero":false}},"text":{"field":"t"}}}
 ]}
]
}
